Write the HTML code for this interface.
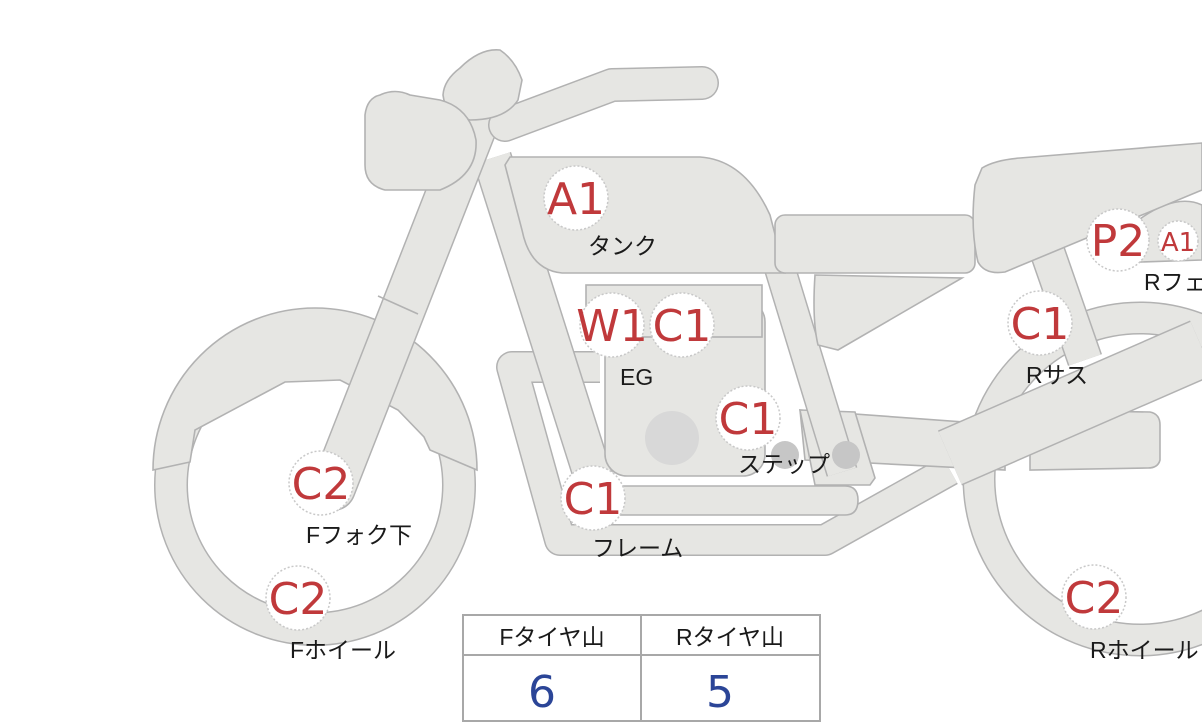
<!DOCTYPE html>
<html><head><meta charset="utf-8"><style>
html,body{margin:0;padding:0;background:#fff;}
svg{display:block;}
.s{fill:#e6e6e3;stroke:#b2b2b2;stroke-width:1.6;}
.lb{font-family:"Liberation Sans","Noto Sans CJK JP",sans-serif;font-size:23px;fill:#1a1a1a;}
.ct{font-family:"DejaVu Sans","Liberation Sans",sans-serif;font-size:44px;fill:#c0393b;text-anchor:middle;}
.ci{fill:#fff;stroke:#c8c8c8;stroke-width:1.5;stroke-dasharray:2 2;}
</style></head><body>
<svg width="1202" height="722" viewBox="0 0 1202 722" xmlns="http://www.w3.org/2000/svg">
<circle cx="1140" cy="479" r="161" fill="none" stroke="#b2b2b2" stroke-width="33"/>
<circle cx="1140" cy="479" r="161" fill="none" stroke="#e6e6e3" stroke-width="30"/>
<circle cx="315" cy="485" r="144" fill="none" stroke="#b2b2b2" stroke-width="34"/>
<circle cx="315" cy="485" r="144" fill="none" stroke="#e6e6e3" stroke-width="31"/>
<path class="s" d="M153 470 A162 162 0 0 1 477 470 L430 450 L424 437 L398 410 L340 380 L285 382 L195 430 L190 462 Z"/>
<path d="M1045 245 L1085 360" stroke="#b2b2b2" stroke-width="36"/>
<path d="M1045 245 L1085 360" stroke="#e6e6e3" stroke-width="33"/>
<path class="s" d="M1030 410 L1150 412 Q1160 414 1160 425 L1160 460 Q1158 468 1148 468 L1030 470 Z"/>
<path d="M600 367 L512 367 L560 540 L825 540 L950 470" fill="none" stroke="#b2b2b2" stroke-width="32" stroke-linejoin="round"/>
<path d="M600 367 L512 367 L560 540 L825 540 L950 470" fill="none" stroke="#e6e6e3" stroke-width="29" stroke-linejoin="round"/>
<path class="s" d="M600 486 L845 486 Q858 486 858 500 Q858 515 845 515 L600 515 Z"/>
<path class="s" d="M800 410 L1005 425 L1005 470 L850 462 L805 460 Z"/>
<path class="s" d="M800 410 L855 412 L875 478 L870 485 L815 485 Z"/>
<path d="M778 262 L842 472" stroke="#b2b2b2" stroke-width="32"/>
<path d="M778 262 L842 472" stroke="#e6e6e3" stroke-width="29"/>
<path d="M492 158 L598 492" stroke="#b2b2b2" stroke-width="40"/>
<path d="M492 158 L598 492" stroke="#e6e6e3" stroke-width="37"/>
<rect class="s" x="605" y="300" width="160" height="176" rx="22"/>
<rect class="s" x="586" y="285" width="176" height="52"/>
<circle cx="672" cy="438" r="27" fill="#d8d8d8"/>
<path class="s" d="M510 157 L700 157 Q745 160 770 215 L785 273 L562 273 Q530 270 522 230 L505 165 Z"/>
<rect class="s" x="775" y="215" width="200" height="58" rx="10"/>
<path class="s" d="M815 275 L962 278 L838 350 L818 345 Q812 320 815 275 Z"/>
<path class="s" d="M1120 235 Q1170 190 1202 205 L1202 260 L1140 262 Z"/>
<path class="s" d="M982 168 Q995 160 1020 158 L1202 143 L1202 190 L1005 272 Q985 275 978 262 Q970 230 975 185 Z"/>
<path d="M950 458 L1202 348" stroke="#b2b2b2" stroke-width="60" stroke-linejoin="round"/>
<path d="M950 458 L1202 348" stroke="#e6e6e3" stroke-width="57"/>
<!-- fork -->
<path d="M333 488 L485 100" stroke="#b2b2b2" stroke-width="46" stroke-linecap="round"/>
<path d="M333 488 L485 100" stroke="#e6e6e3" stroke-width="43" stroke-linecap="round"/>
<path d="M378 296 L418 314" stroke="#b2b2b2" stroke-width="1.6"/>
<!-- handlebar -->
<path d="M505 125 L612 85 L702 83" fill="none" stroke="#b2b2b2" stroke-width="34" stroke-linecap="round" stroke-linejoin="round"/>
<path d="M505 125 L612 85 L702 83" fill="none" stroke="#e6e6e3" stroke-width="31" stroke-linecap="round" stroke-linejoin="round"/>
<!-- top light -->
<path class="s" d="M460 68 Q480 48 500 50 Q515 60 522 80 L518 100 Q505 120 470 120 Q445 115 443 95 Q444 80 460 68 Z"/>
<!-- headlight -->
<path class="s" d="M380 95 Q395 88 410 95 L440 100 Q470 108 476 140 Q478 175 440 190 L385 190 Q365 185 365 165 L365 115 Q367 98 380 95 Z"/>
<circle cx="785" cy="455" r="14" fill="#c6c6c6"/>
<circle cx="846" cy="455" r="14" fill="#c6c6c6"/>
<g>
<circle class="ci" cx="576" cy="198" r="32"/><text class="ct" x="576" y="214">A1</text>
<circle class="ci" cx="612" cy="325" r="32"/><text class="ct" x="612" y="341">W1</text>
<circle class="ci" cx="682" cy="325" r="32"/><text class="ct" x="682" y="341">C1</text>
<circle class="ci" cx="748" cy="418" r="32"/><text class="ct" x="748" y="434">C1</text>
<circle class="ci" cx="321" cy="483" r="32"/><text class="ct" x="321" y="499">C2</text>
<circle class="ci" cx="593" cy="498" r="32"/><text class="ct" x="593" y="514">C1</text>
<circle class="ci" cx="298" cy="598" r="32"/><text class="ct" x="298" y="614">C2</text>
<circle class="ci" cx="1118" cy="240" r="31"/><text class="ct" x="1118" y="256">P2</text>
<circle class="ci" cx="1178" cy="241" r="20"/><text class="ct" x="1178" y="251" style="font-size:26px">A1</text>
<circle class="ci" cx="1040" cy="323" r="32"/><text class="ct" x="1040" y="339">C1</text>
<circle class="ci" cx="1094" cy="597" r="32"/><text class="ct" x="1094" y="613">C2</text>
</g>
<text class="lb" x="588" y="254">タンク</text>
<text class="lb" x="620" y="385">EG</text>
<text class="lb" x="738" y="472">ステップ</text>
<text class="lb" x="306" y="543">Fフォク下</text>
<text class="lb" x="592" y="556">フレーム</text>
<text class="lb" x="290" y="658">Fホイール</text>
<text class="lb" x="1144" y="290">Rフェンダー</text>
<text class="lb" x="1026" y="383">Rサス</text>
<text class="lb" x="1090" y="658">Rホイール</text>
<rect x="463" y="615" width="357" height="106" fill="#fff" stroke="#a8a8a8" stroke-width="2"/>
<line x1="463" y1="655" x2="820" y2="655" stroke="#a8a8a8" stroke-width="2"/>
<line x1="641" y1="615" x2="641" y2="721" stroke="#a8a8a8" stroke-width="2"/>
<text class="lb" x="552" y="645" text-anchor="middle">Fタイヤ山</text>
<text class="lb" x="730" y="645" text-anchor="middle">Rタイヤ山</text>
<text x="542" y="707" text-anchor="middle" style="font-family:'DejaVu Sans','Liberation Sans',sans-serif;font-size:44px;fill:#2b4597">6</text>
<text x="720" y="707" text-anchor="middle" style="font-family:'DejaVu Sans','Liberation Sans',sans-serif;font-size:44px;fill:#2b4597">5</text>
</svg>
</body></html>
